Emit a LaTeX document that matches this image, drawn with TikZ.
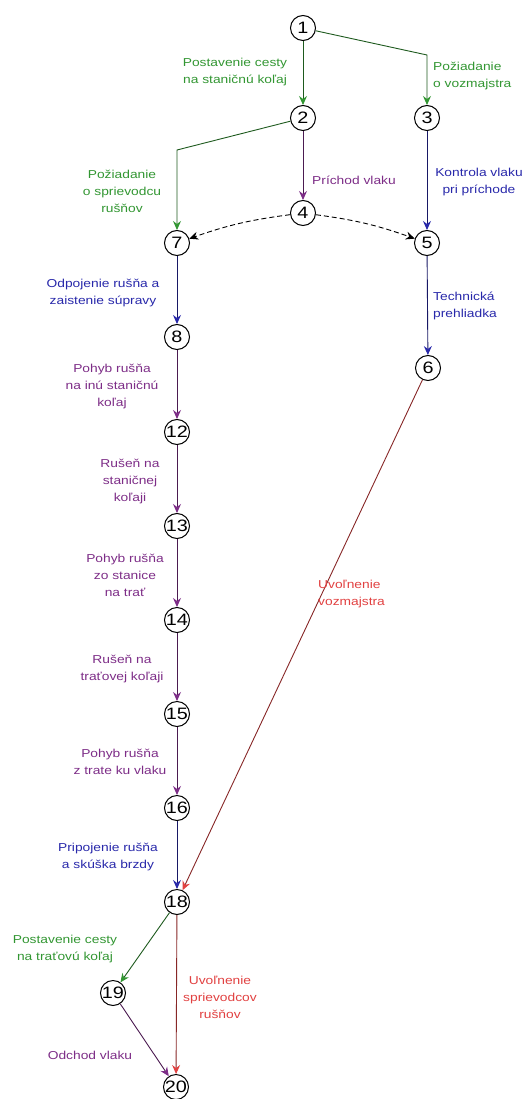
\documentclass[tikz,border=0pt]{standalone}
\usepackage{fontspec}
\setmainfont[FakeStretch=1.2]{Liberation Sans}
\usetikzlibrary{arrows.meta,calc}

\definecolor{cgreen}{RGB}{50,150,50}
\definecolor{cblue}{RGB}{40,40,170}
\definecolor{cpurple}{RGB}{125,45,135}
\definecolor{cred}{RGB}{225,65,65}

\tikzset{
  state/.style={circle, draw=black, line width=1pt, fill=white,
    minimum size=25pt, inner sep=0pt, font=\fontsize{16.5}{16.5}\selectfont},
  lbl/.style={font=\fontsize{11.5}{17}\selectfont, align=center, inner sep=0pt},
  lblleft/.style={lbl, align=left, anchor=west},
  conn/.style={line width=0.9pt, draw=#1!60!black,
    -{Stealth[length=9pt, width=8pt, inset=3pt, color=#1]}},
  dashconn/.style={line width=0.9pt, draw=black, dash pattern=on 5pt off 3pt,
    -{Stealth[length=9pt, width=8pt, inset=3pt]}},
}

\begin{document}
\begin{tikzpicture}[x=1pt, y=-1pt]
\useasboundingbox (0,0) rectangle (524,1099);

% events
\node[state] (n1)  at (303,28)   {1};
\node[state] (n2)  at (303,118)  {2};
\node[state] (n3)  at (427,118)  {3};
\node[state] (n4)  at (303,213)  {4};
\node[state] (n7)  at (177,243)  {7};
\node[state] (n5)  at (427,243)  {5};
\node[state] (n8)  at (177,337)  {8};
\node[state] (n6)  at (428,368)  {6};
\node[state] (n12) at (177,432)  {12};
\node[state] (n13) at (177,526)  {13};
\node[state] (n14) at (177,620)  {14};
\node[state] (n15) at (177,714)  {15};
\node[state] (n16) at (177,808)  {16};
\node[state] (n18) at (177,902)  {18};
\node[state] (n19) at (113,993)  {19};
\node[state] (n20) at (176,1087) {20};

% bend points
\coordinate (c13) at (427,55);
\coordinate (c27) at (177,150);

% activities
\draw[conn=cgreen]  (n1) -- (n2);
\draw[conn=cgreen]  (n1) -- (c13) -- (n3);
\draw[conn=cgreen]  (n2) -- (c27) -- (n7);
\draw[conn=cpurple] (n2) -- (n4);
\draw[conn=cblue]   (n3) -- (n5);
\draw[dashconn]     (n4) to[bend right=6] (n7);
\draw[dashconn]     (n4) to[bend left=6] (n5);
\draw[conn=cblue]   (n7) -- (n8);
\draw[conn=cblue]   (n5) -- (n6);
\draw[conn=cpurple] (n8) -- (n12);
\draw[conn=cpurple] (n12) -- (n13);
\draw[conn=cpurple] (n13) -- (n14);
\draw[conn=cpurple] (n14) -- (n15);
\draw[conn=cpurple] (n15) -- (n16);
\draw[conn=cblue]   (n16) -- (n18);
\draw[conn=cred]    (n6) -- (n18);
\draw[conn=cgreen]  (n18) -- (n19);
\draw[conn=cred]    (n18) -- (n20);
\draw[conn=cpurple] (n19) -- (n20);

% activity labels
\node[lbl, text=cgreen]      (lA) at (235,72)  {Postavenie cesty\\na staničnú koľaj};
\node[lblleft, text=cgreen]  (lB) at (433,76)  {Požiadanie\\o vozmajstra};
\node[lbl, text=cpurple]     (lC) at (354,180) {Príchod vlaku};
\node[lbl, text=cblue]       (lD) at (479,182) {Kontrola vlaku\\pri príchode};
\node[lbl, text=cgreen]      (lE) at (122,191) {Požiadanie\\o sprievodcu\\rušňov};
\node[lbl, text=cblue]       (lF) at (103,293) {Odpojenie rušňa a\\zaistenie súpravy};
\node[lblleft, text=cblue]   (lG) at (433,306) {Technická\\prehliadka};
\node[lbl, text=cpurple]     (lH) at (112,387) {Pohyb rušňa\\na inú staničnú\\koľaj};
\node[lbl, text=cpurple]     (lI) at (130,482) {Rušeň na\\staničnej\\koľaji};
\node[lbl, text=cpurple]     (lJ) at (125,575) {Pohyb rušňa\\zo stanice\\na trať};
\node[lbl, text=cpurple]     (lK) at (122,669) {Rušeň na\\traťovej koľaji};
\node[lbl, text=cpurple]     (lL) at (120,762) {Pohyb rušňa\\z trate ku vlaku};
\node[lbl, text=cblue]       (lM) at (108,857) {Pripojenie rušňa\\a skúška brzdy};
\node[lblleft, text=cred]    (lN) at (318,594) {Uvoľnenie\\vozmajstra};
\node[lbl, text=cgreen]      (lO) at (65,949)  {Postavenie cesty\\na traťovú koľaj};
\node[lbl, text=cred]        (lP) at (220,997) {Uvoľnenie\\sprievodcov\\rušňov};
\node[lbl, text=cpurple]     (lQ) at (90,1055) {Odchod vlaku};
\end{tikzpicture}
\end{document}
